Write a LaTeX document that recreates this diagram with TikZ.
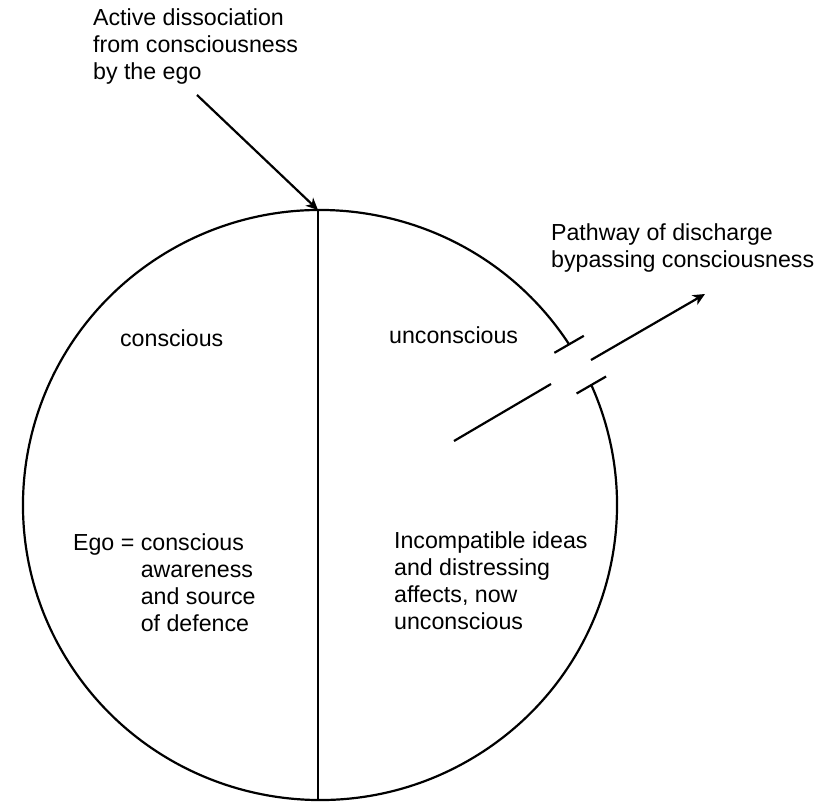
\documentclass[tikz,border=0pt]{standalone}
\usepackage{fontspec}
\setmainfont{Liberation Sans}
\usetikzlibrary{arrows.meta}
\begin{document}
\begin{tikzpicture}[x=1pt,y=1pt,line width=2.2pt,
  txt/.style={font=\fontsize{23.2}{27}\selectfont,inner sep=0pt,align=left,anchor=base west},
  arr/.style={-{Stealth[length=12pt,width=11pt,inset=3.5pt]}}]
\useasboundingbox (0,0) rectangle (832,-802);
\fill[white] (0,0) rectangle (832,-802);
% circle geometry
\coordinate (c) at (320,-505);
\path (c) ++(33:297 and 295) coordinate (g1);
\path (c) ++(24:297 and 295) coordinate (g2);
\coordinate (top) at (318,-210);
\coordinate (bot) at (318,-800);
\draw (g1) arc[start angle=33,end angle=384,x radius=297,y radius=295];
\draw (top) -- (bot);
% break ticks
\draw ([shift={(210:17)}]g1) -- ([shift={(30:17)}]g1);
\draw ([shift={(210:17)}]g2) -- ([shift={(30:17)}]g2);
% pathway arrow
\coordinate (a1) at (454,-441);
\coordinate (a2) at (551,-384);
\coordinate (a3) at (591,-360);
\coordinate (a4) at (705,-294);
\draw (a1) -- (a2);
\draw[arr] (a3) -- (a4);
% dissociation arrow
\coordinate (d1) at (197,-95);
\draw[arr] (d1) -- (top);
% texts (base anchor = baseline of last line)
\node[txt] (t1) at (92,-80) {Active dissociation\\from consciousness\\by the ego};
\node[txt] (t2) at (550,-267) {Pathway of discharge\\bypassing consciousness};
\node[txt] (t3) at (119,-346) {conscious};
\node[txt] (t4) at (388,-343) {unconscious};
\node[txt] (t5) at (72,-550) {\begin{tabular}[t]{@{}l@{\ }l@{}}Ego = & conscious\\ & awareness\\ & and source\\ & of defence\end{tabular}};
\node[txt] (t6) at (393,-629) {Incompatible ideas\\and distressing\\affects, now\\unconscious};
\end{tikzpicture}
\end{document}
